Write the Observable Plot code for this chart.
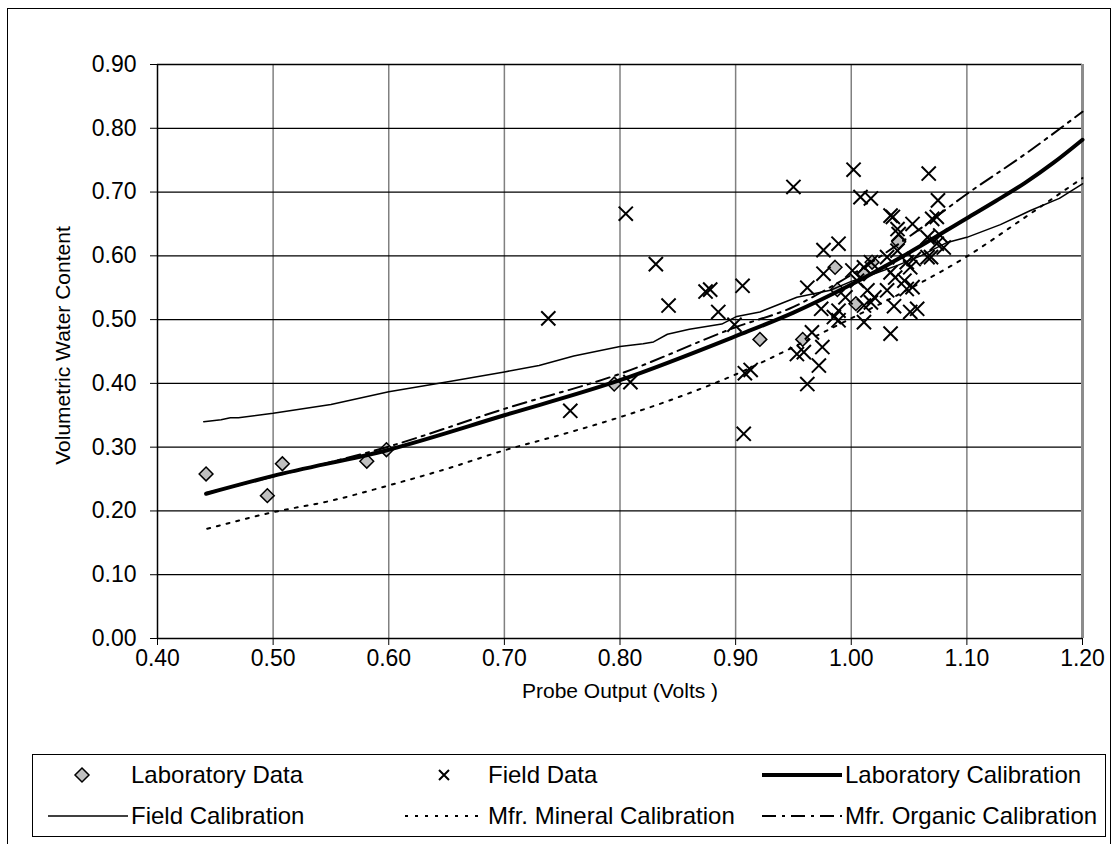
<!DOCTYPE html>
<html><head><meta charset="utf-8">
<script src="https://cdn.jsdelivr.net/npm/d3@7"></script>
<script src="https://cdn.jsdelivr.net/npm/@observablehq/plot@0.6"></script>
<style>
body{margin:0;background:#fff;font-family:"Liberation Sans",Arial,sans-serif;}
#wrap{position:relative;width:1120px;height:844px;overflow:hidden;background:#fff}
#frame{position:absolute;left:7px;top:8px;width:1104px;height:900px;border:1.5px solid #000;box-sizing:border-box}
#chart{position:absolute;left:0;top:0}
#legend{position:absolute;left:32px;top:754px;width:1074px;height:83px;border:1.5px solid #000;box-sizing:border-box;background:#fff}
.item{position:absolute;display:flex;align-items:center;font-size:24px;white-space:nowrap;height:30px;color:#000}
.item svg{display:block;flex:none}
</style></head><body>
<div id="wrap"><div id="frame"></div><div id="chart"></div><div id="legend"></div></div>
<script>
// ---- tick values ----
const xTicks = [0.40,0.50,0.60,0.70,0.80,0.90,1.00,1.10,1.20];
const yTicks = [0.00,0.10,0.20,0.30,0.40,0.50,0.60,0.70,0.80,0.90];

// ---- Laboratory Data ----
const labX = [0.442,0.495,0.508,0.581,0.598,0.795,0.921,0.958,0.986,0.988,1.004,1.011,1.018,1.041];
const labY = [0.258,0.224,0.274,0.278,0.296,0.399,0.469,0.469,0.582,0.547,0.525,0.572,0.590,0.622];

// ---- Field Data ----
const fieldX = [0.738,0.757,0.805,0.809,0.831,0.842,0.874,0.878,0.885,0.899,0.906,0.907,0.908,0.913,
  0.950,0.953,0.959,0.962,0.962,0.966,0.972,0.975,0.974,0.976,0.976,0.985,0.989,0.989,0.989,0.995,
  1.001,1.002,1.005,1.008,1.011,1.011,1.011,1.014,1.017,1.017,1.017,1.020,1.031,1.031,1.034,1.034,
  1.034,1.036,1.037,1.038,1.040,1.040,1.041,1.046,1.048,1.048,1.051,1.051,1.053,1.053,1.054,1.057,
  1.066,1.066,1.067,1.069,1.070,1.074,1.074,1.075,1.077,1.080];
const fieldY = [0.502,0.357,0.666,0.402,0.587,0.522,0.544,0.547,0.512,0.492,0.553,0.321,0.416,0.421,
  0.708,0.446,0.449,0.399,0.550,0.480,0.428,0.457,0.517,0.572,0.609,0.504,0.499,0.514,0.619,0.535,
  0.577,0.735,0.561,0.692,0.496,0.522,0.582,0.546,0.527,0.590,0.690,0.535,0.546,0.598,0.478,0.574,
  0.663,0.661,0.521,0.566,0.608,0.642,0.634,0.561,0.548,0.590,0.512,0.582,0.551,0.650,0.595,0.517,
  0.598,0.629,0.729,0.598,0.658,0.619,0.661,0.687,0.632,0.613];

// ---- Laboratory Calibration ----
const labCalX = [0.442,0.50,0.60,0.70,0.80,0.90,0.95,1.00,1.05,1.10,1.125,1.15,1.175,1.20];
const labCalY = [0.227,0.255,0.296,0.350,0.405,0.474,0.511,0.555,0.605,0.659,0.686,0.714,0.746,0.782];

// ---- Field Calibration ----
const fieldCalX = [0.440,0.455,0.463,0.470,0.50,0.55,0.60,0.65,0.70,0.73,0.76,0.80,0.82,0.829,0.841,0.86,0.888,0.901,0.921,0.953,0.982,1.00,1.02,1.04,1.06,1.083,1.10,1.129,1.155,1.18,1.20];
const fieldCalY = [0.340,0.343,0.346,0.346,0.353,0.367,0.387,0.402,0.418,0.428,0.443,0.458,0.462,0.465,0.477,0.485,0.493,0.505,0.512,0.535,0.546,0.560,0.572,0.585,0.600,0.621,0.629,0.649,0.671,0.690,0.713];

// ---- Mfr. Mineral Calibration ----
const mineralX = [0.443,0.50,0.55,0.60,0.65,0.70,0.75,0.80,0.85,0.90,0.95,1.00,1.05,1.10,1.15,1.20];
const mineralY = [0.172,0.198,0.216,0.240,0.266,0.295,0.320,0.347,0.378,0.414,0.457,0.502,0.548,0.599,0.660,0.722];

// ---- Mfr. Organic Calibration ----
const organicX = [0.442,0.50,0.60,0.70,0.80,0.90,0.95,0.982,1.00,1.05,1.10,1.15,1.20];
const organicY = [0.228,0.254,0.301,0.360,0.415,0.488,0.520,0.551,0.570,0.630,0.697,0.759,0.826];

const FONT = '"Liberation Sans", Arial, sans-serif';
const fmt = d => d.toFixed(2);

const chart = Plot.plot({
  width: 1120, height: 740,
  marginLeft: 157, marginRight: 38, marginTop: 64, marginBottom: 102,
  style: {fontFamily: FONT, fontSize: "23px", color: "#000", background: "transparent", overflow: "visible"},
  x: {domain: [0.4, 1.2]},
  y: {domain: [0, 0.9]},
  marks: [
    Plot.gridX(xTicks.slice(1, -1), {stroke: "#808080", strokeOpacity: 1, strokeWidth: 1.5}),
    Plot.gridY(yTicks.slice(1), {stroke: "#000", strokeOpacity: 1, strokeWidth: 1.3}),
    Plot.ruleX([1.2], {stroke: "#8c8c8c", strokeWidth: 3}),
    Plot.axisX(xTicks, {tickFormat: fmt, tickSize: 7, tickPadding: 4, label: null, stroke: "#000", fontSize: 23}),
    Plot.axisY(yTicks, {tickFormat: fmt, tickSize: 7, tickPadding: 14, label: null, stroke: "#000", fontSize: 23}),
    Plot.ruleX([0.4], {stroke: "#000", strokeWidth: 1.5}),
    Plot.ruleY([0], {stroke: "#000", strokeWidth: 1.5}),
    Plot.dot(labX, {x: labX, y: labY, symbol: "diamond2", r: 6.2, fill: "#c0c0c0", stroke: "#000", strokeWidth: 1.5}),
    Plot.dot(fieldX, {x: fieldX, y: fieldY, symbol: "times", r: 6.5, stroke: "#000", strokeWidth: 2}),
    Plot.line(labCalX, {x: labCalX, y: labCalY, stroke: "#000", strokeWidth: 4, curve: "monotone-x"}),
    Plot.line(fieldCalX, {x: fieldCalX, y: fieldCalY, stroke: "#000", strokeWidth: 1.5}),
    Plot.line(mineralX, {x: mineralX, y: mineralY, stroke: "#000", strokeWidth: 2, strokeDasharray: "3,7", curve: "monotone-x"}),
    Plot.line(organicX, {x: organicX, y: organicY, stroke: "#000", strokeWidth: 2, strokeDasharray: "14,6,3,6", curve: "monotone-x"}),
    Plot.text(["Volumetric Water Content"], {frameAnchor: "left", textAnchor: "middle", lineAnchor: "middle", dx: -94, dy: -6, rotate: -90, fontSize: 21, fill: "#000"}),
    Plot.text(["Probe Output (Volts )"], {frameAnchor: "bottom", textAnchor: "middle", lineAnchor: "middle", dy: 53, fontSize: 21, fill: "#000"})
  ]
});
document.getElementById("chart").appendChild(chart);

// ---- Legend ----
const legendNames = ["Laboratory Data","Field Data","Laboratory Calibration","Field Calibration","Mfr. Mineral Calibration","Mfr. Organic Calibration"];
const legendKinds = ["diamond","times","thick","thin","dot","dashdot"];
const legendCol = [48, 405, 762];
const legendRow = [775, 816];
const wrap = document.getElementById("wrap");
legendNames.forEach((name, i) => {
  const col = i % 3, row = Math.floor(i / 3);
  const item = document.createElement("div");
  item.className = "item";
  item.style.left = legendCol[col] + "px";
  item.style.top = (legendRow[row] - 15) + "px";
  const kind = legendKinds[i];
  let g = "";
  if (kind === "diamond") g = '<path d="M34,8L41,15L34,22L27,15Z" fill="#c0c0c0" stroke="#000" stroke-width="1.5"/>';
  else if (kind === "times") g = '<path d="M34,10L44,20M44,10L34,20" stroke="#000" stroke-width="2"/>';
  else if (kind === "thick") g = '<line x1="0" x2="80" y1="15" y2="15" stroke="#000" stroke-width="4"/>';
  else if (kind === "thin") g = '<line x1="0" x2="80" y1="15" y2="15" stroke="#000" stroke-width="1.5"/>';
  else if (kind === "dot") g = '<line x1="0" x2="80" y1="15" y2="15" stroke="#000" stroke-width="2" stroke-dasharray="3,7"/>';
  else g = '<line x1="0" x2="80" y1="15" y2="15" stroke="#000" stroke-width="2" stroke-dasharray="14,6,3,6"/>';
  item.innerHTML = '<svg width="80" height="30">' + g + '</svg><span style="margin-left:3px">' + name + '</span>';
  wrap.appendChild(item);
});
</script>
</body></html>
